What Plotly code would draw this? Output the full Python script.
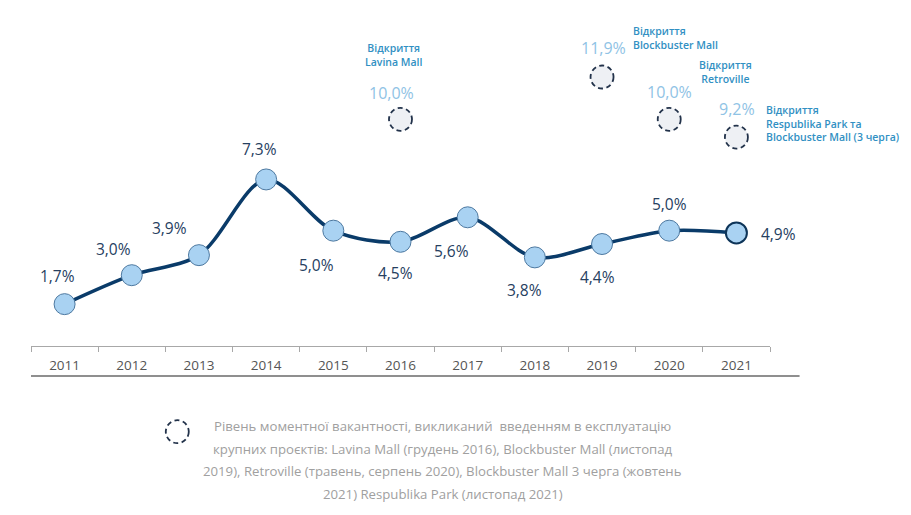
import plotly.graph_objects as go

# ---- data ----
years = ["2011", "2012", "2013", "2014", "2015", "2016", "2017", "2018", "2019", "2020", "2021"]
vacancy = [1.7, 3.0, 3.9, 7.3, 5.0, 4.5, 5.6, 3.8, 4.4, 5.0, 4.9]
vacancy_labels = ["1,7%", "3,0%", "3,9%", "7,3%", "5,0%", "4,5%", "5,6%", "3,8%", "4,4%", "5,0%", "4,9%"]

peak_years = ["2016", "2019", "2020", "2021"]
peak_values = [10.0, 11.9, 10.0, 9.2]
peak_labels = ["10,0%", "11,9%", "10,0%", "9,2%"]
peak_notes = [
    "Відкриття<br>Lavina Mall",
    "Відкриття<br>Blockbuster Mall",
    "Відкриття<br>Retroville",
    "Відкриття<br>Respublika Park та<br>Blockbuster Mall (3 черга)",
]

legend_lines = [
    "Рівень моментної вакантності, викликаний  введенням в експлуатацію",
    "крупних проєктів: Lavina Mall (грудень 2016), Blockbuster Mall (листопад",
    "2019), Retroville (травень, серпень 2020), Blockbuster Mall 3 черга (жовтень",
    "2021) Respublika Park (листопад 2021)",
]

# ---- styles ----
FONT = "Open Sans"
LINE_COLOR = "#0a3b69"
MARKER_FILL = "#a9d2f2"
LABEL_COLOR = "#26405f"
PEAK_LABEL_COLOR = "#8fc3e5"
NOTE_COLOR = "#3190c3"
DASH_COLOR = "#22324a"

# label offsets (px) relative to each point
label_shift = [(-7, 28), (-18, 26), (-29, 27), (-7, 30), (-17, -34), (-5, -31),
               (-16, -34), (-10, -33), (-5, -33), (0, 27), (23, -1)]
label_anchor = ["center"] * 10 + ["left"]
peak_label_shift = [(-9, 26), (1, 29), (0, 27), (1, 28)]
note_shift = [(-7, 64, "center"), (29, 39, "left"), (56, 47, "center"), (28, 14, "left")]

def idx(yr):
    # category axes take the serial number of the category for annotations/shapes
    return years.index(yr)

fig = go.Figure()

marker_line_colors = ["#4c78a0"] * 10 + ["#0d3458"]
marker_line_widths = [1] * 10 + [2]

fig.add_trace(go.Scatter(
    x=years, y=vacancy, mode="lines+markers",
    line=dict(color=LINE_COLOR, width=3.5, shape="spline", smoothing=0.9),
    marker=dict(size=21, color=MARKER_FILL,
                line=dict(color=marker_line_colors, width=marker_line_widths)),
    hoverinfo="skip", showlegend=False,
))

annotations = []
for yr, v, lab, (dx, dy), anc in zip(years, vacancy, vacancy_labels, label_shift, label_anchor):
    annotations.append(dict(
        x=idx(yr), y=v, text=lab, showarrow=False, xanchor=anc, yanchor="middle",
        xshift=dx, yshift=dy, font=dict(family=FONT, size=15.5, color=LABEL_COLOR)))

shapes = []
for yr, v, lab, (dx, dy), (nx, ny, nanc), note in zip(
        peak_years, peak_values, peak_labels, peak_label_shift, note_shift, peak_notes):
    shapes.append(dict(
        type="circle", xref="x", yref="y", xsizemode="pixel", ysizemode="pixel",
        xanchor=idx(yr), yanchor=v, x0=-11.5, x1=11.5, y0=-11.5, y1=11.5,
        fillcolor="#eef0f4", line=dict(color=DASH_COLOR, width=1.8, dash="5px,3.5px")))
    annotations.append(dict(
        x=idx(yr), y=v, text=lab, showarrow=False, xanchor="center", yanchor="middle",
        xshift=dx, yshift=dy, font=dict(family=FONT, size=16, color=PEAK_LABEL_COLOR)))
    annotations.append(dict(
        x=idx(yr), y=v, text=note, showarrow=False, xanchor=nanc, yanchor="middle",
        align=nanc,
        xshift=nx, yshift=ny, font=dict(family=FONT, size=10.5, color=NOTE_COLOR, weight=600)))

# legend (dashed circle + explanatory text)
shapes.append(dict(
    type="circle", xref="paper", yref="paper",
    x0=0.1824, x1=0.2135, y0=-0.2893, y1=-0.2208,
    fillcolor="white", line=dict(color=DASH_COLOR, width=1.8, dash="5px,3.5px")))
legend_y = [-0.238, -0.306, -0.372, -0.440]
for txt, ly in zip(legend_lines, legend_y):
    annotations.append(dict(
        x=0.5575, y=ly, xref="paper", yref="paper", text=txt, showarrow=False,
        xanchor="center", yanchor="middle",
        font=dict(family=FONT, size=13.2, color="#a0a0a0")))

# bottom rule below the year labels
shapes.append(dict(type="line", xref="paper", yref="paper", x0=0, x1=1.04,
                   y0=-0.0893, y1=-0.0893, line=dict(color="#8f8f8f", width=2)))

fig.update_layout(
    width=911, height=515,
    margin=dict(l=31, r=141, t=10, b=169),
    paper_bgcolor="white", plot_bgcolor="white",
    font=dict(family=FONT),
    showlegend=False,
    annotations=annotations,
    shapes=shapes,
    xaxis=dict(
        type="category", categoryorder="array", categoryarray=years,
        range=[-0.5, 10.5], showgrid=False, zeroline=False,
        showline=True, linecolor="#a8a8a8", linewidth=1,
        ticks="outside", tickson="boundaries", ticklen=5, tickcolor="#a8a8a8",
        ticklabelstandoff=7,
        tickfont=dict(family=FONT, size=13.5, color="#555555"),
        fixedrange=True,
    ),
    yaxis=dict(range=[-0.18, 14.91], visible=False, fixedrange=True),
)

fig.write_html(
    "out.html",
    config={"displayModeBar": False},
    post_script="document.body.style.margin='0';document.body.style.padding='0';",
)
